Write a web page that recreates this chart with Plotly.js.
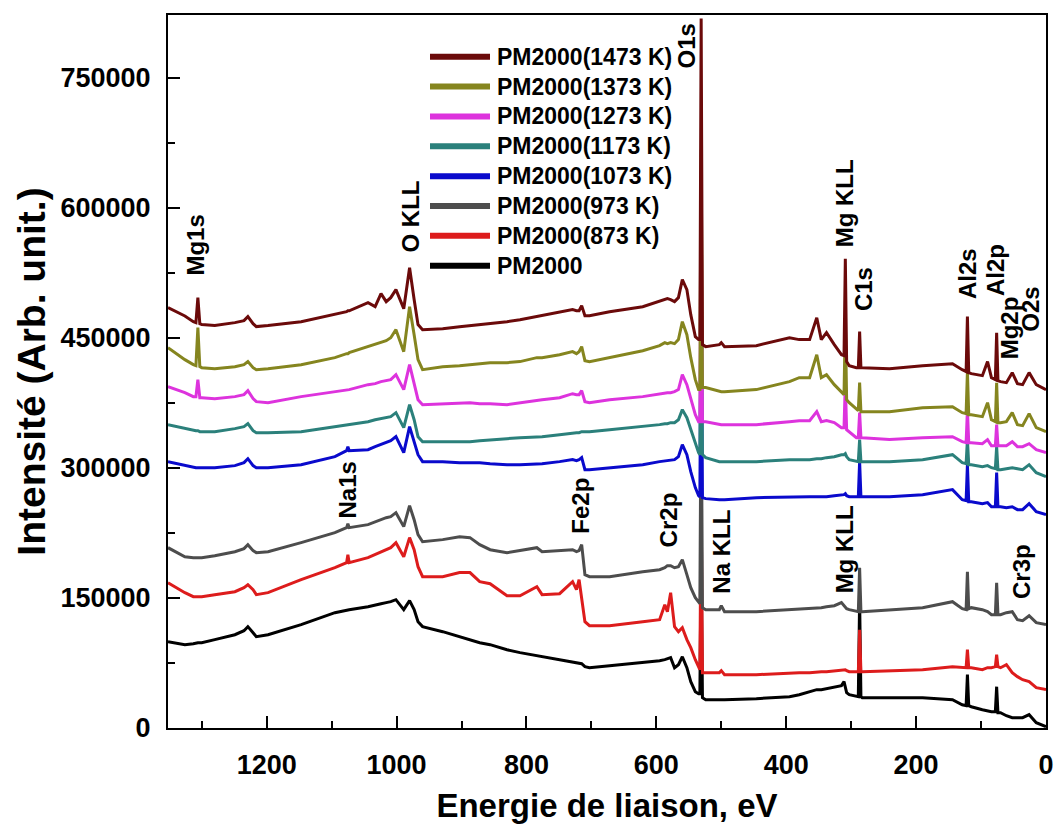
<!DOCTYPE html>
<html><head><meta charset="utf-8">
<script src="https://cdn.plot.ly/plotly-3.0.1.min.js"></script>
<style>html,body{margin:0;padding:0;background:#fff;} #chart{width:1056px;height:833px;}</style>
</head><body><div id="chart"></div>
<script>
// Binding energy grid (eV), shared by all spectra
const energy = [1352,1326,1313,1309,1306,1303,1300,1280,1249,1235,1229,1221,1216,1198,1147,1095,1077,1075,1073,1044,1033,1024,1016,1009,1001,989,980,973,967,960,929,903,887,872,856,830,810,784,776,749,729,723,719,715,710,703,672,621,595,587,583,578,572,566,560,553,547,540,535,533,531,529,524,503,500,495,446,395,380,364,353,346,338,326,315,311,309,307,303,292,289,287,285,283,241,190,144,129,123,121,119,115,98,90,84,78,76,74,70,61,52,44,36,26,15,0];

const seriesNames = ["PM2000","PM2000(873 K)","PM2000(973 K)","PM2000(1073 K)","PM2000(1173 K)","PM2000(1273 K)","PM2000(1373 K)","PM2000(1473 K)"];

const pm2000 = [99200,95800,96900,98100,98100,98100,98100,101600,107300,111900,
 116600,109600,105000,107300,118900,132700,136200,136200,136200,139600,
 141900,143100,144300,145400,147700,136200,146600,136200,122300,116600,
 110800,105000,101600,98100,95800,90000,86600,83100,81900,78500,
 76200,75000,75000,73900,70400,69200,71600,75000,77300,78500,
 79600,80800,69200,72700,81900,69200,53100,41500,39200,39200,
 193900,34600,32300,32300,32300,32300,33500,35800,38100,41500,
 43900,43900,45000,47300,48500,53100,46200,40400,38100,35800,
 35800,147700,35800,34600,34600,34600,32300,26500,25400,61200,
 25400,24200,20800,19600,18500,18500,47300,17300,17300,13800,
 11500,11500,11500,15000,5800,1200];

const pm873 = [167300,155800,151200,151200,151200,151200,151200,153500,156900,161600,
 165000,159300,153500,155800,170800,184600,190400,199600,190400,196200,
 199600,203100,205400,207700,213500,197300,219300,205400,185800,174300,
 174300,179000,179000,168500,166200,152300,152300,162700,153500,154600,
 168500,159300,170800,147700,122300,117700,117700,122300,124600,141900,
 133900,155800,116600,110800,115400,101600,92300,78500,69200,66900,
 263100,63500,63500,63500,65800,61200,61200,63500,63500,63500,
 64600,64600,64600,65800,66900,66900,66900,65800,64600,64600,
 64600,113100,64600,64600,65800,66900,70400,69200,69200,90000,
 69200,69200,66900,69200,69200,70400,84200,70400,69200,72700,
 63500,58900,55400,53100,46200,43900];

const pm973 = [207700,197300,196200,196200,196200,196200,196200,198500,203100,206600,
 211200,204300,202000,203100,213500,225000,230800,235400,230800,234300,
 237700,240000,242300,243500,248100,232000,256200,240000,222700,214600,
 217000,220400,219300,211200,205400,201900,204300,207700,203100,204300,
 205400,203100,204300,211200,176600,174300,174300,180000,182300,184600,
 187000,187000,184600,185800,193900,176600,161600,150000,144300,143100,
 401600,138500,136200,136200,140800,133900,133900,136200,137300,137300,
 138500,138500,139600,140800,144300,140800,139600,137300,136200,135000,
 133900,184600,133900,133900,136200,138500,145400,137300,136200,180000,
 137300,138500,136200,133900,130400,130400,167300,130400,130400,132700,
 133900,124600,123500,129200,121200,118900];

const pm1073 = [307000,302400,300000,300000,300000,300000,300000,300000,302400,305800,
 310400,302400,300000,300000,303500,312700,319600,324300,319600,320800,
 324300,326600,328900,331200,335800,317400,347400,330000,315000,307000,
 307000,305800,305800,305800,304700,303500,303500,304700,304700,307000,
 309300,308100,309300,311600,297700,297700,300000,303500,307000,308100,
 308100,309300,309300,312700,326600,315000,295400,277000,267700,266500,
 505500,265400,264300,263100,263100,263100,265400,266500,266500,266500,
 266500,266500,266500,267700,268900,268900,270000,267700,266500,266500,
 266500,307000,266500,266500,266500,268900,274700,263100,262000,303500,
 260800,260800,258500,259700,255000,255000,294300,255000,255000,253900,
 255000,251600,251600,258500,249300,245800];

const pm1173 = [349700,345100,342700,342700,342700,341600,341600,341600,345100,347400,
 350800,342700,340400,340400,341600,347400,349700,349700,349700,353100,
 355400,356600,357700,358900,363500,346200,372700,355400,335800,330000,
 330000,330000,330000,331200,332400,333500,334700,335800,335800,338100,
 340400,340400,340400,341600,341600,341600,343900,347400,349700,350800,
 350800,352000,352000,355400,367000,357700,343900,326600,317400,315000,
 551600,315000,311600,307000,307000,307000,307000,309300,309300,309300,
 310400,310400,311600,312700,315000,315000,316200,312700,309300,307000,
 307000,332400,307000,307000,307000,309300,315000,305800,304700,332400,
 303500,303500,301200,302400,300000,298900,324300,297700,297700,298900,
 300000,298900,297700,303500,294300,289700];

const pm1273 = [393500,386600,382000,382000,401600,380800,380800,379700,382000,384300,
 388900,379700,376200,375000,382000,387700,390100,390100,390100,395800,
 397000,399300,400400,401600,407400,390100,418900,395800,378500,372700,
 373900,375000,375000,373900,373900,372700,375000,377400,378500,380800,
 385400,384300,384300,388900,376200,375000,378500,382000,385400,386600,
 386600,386600,387700,390100,407400,395800,378500,361200,353100,353100,
 609300,353100,353100,349700,349700,349700,349700,353100,354300,354300,
 364700,353100,354300,352000,346200,346200,398100,343900,341600,334700,
 334700,363500,334700,334700,332400,334700,335800,330000,328900,367000,
 328900,328900,327700,332400,325400,325400,349700,325400,325400,325400,
 330000,324300,324300,327700,320800,317400];

const pm1373 = [438500,424700,418900,417700,461600,416600,415400,414300,416600,418900,
 422400,415400,413100,414300,418900,427000,431600,431600,432700,439700,
 442000,444300,446600,450000,459300,433900,485800,453500,424700,413100,
 416600,417700,418900,420000,421200,421200,422400,427000,427000,430400,
 433900,431600,433900,439700,423500,422400,427000,435000,440800,444300,
 443100,444300,443100,447800,468500,453500,427000,401600,390100,390100,
 667000,392400,392400,387700,387700,387700,390100,399300,403900,403900,
 430400,403900,407300,395800,386600,384300,470800,378500,375000,367000,
 365800,398100,364600,364600,364600,369300,370400,363500,362400,410800,
 361200,361200,358900,375000,355400,353100,398100,352000,352000,353100,
 363500,349700,348500,362400,346200,341600];

const pm1473 = [484700,475000,468500,467400,496200,466200,465100,464000,467400,469700,
 474300,466200,462800,464000,468500,476600,480000,481000,481000,490400,
 485800,500800,491600,496200,505500,483500,530800,494000,465100,459300,
 460400,462700,464000,465100,466200,468500,470800,474300,475400,478900,
 482400,481200,481200,487000,475400,475400,480000,485800,491600,494000,
 495100,494000,491600,496200,517000,505500,476600,451200,447800,447800,
 818200,442000,439700,442000,444300,439700,440800,450000,447800,447800,
 473100,447800,455800,442000,430400,429300,541200,422400,417700,415400,
 415400,457000,415400,415400,414300,417700,420000,413100,410800,474300,
 409700,408500,406200,422400,403900,401600,455800,400400,399300,398100,
 409700,397000,395800,409700,395800,390000];

const peakLabels = ["Mg1s","O KLL","O1s","Mg KLL","C1s","Al2s","Al2p","Mg2p","O2s","Na1s","Fe2p","Cr2p","Na KLL","Mg KLL","Cr3p"];
const xTickVals = [0,200,400,600,800,1000,1200];
const yTickVals = [0,150000,300000,450000,600000,750000];

// ---- styling / layout ----
const seriesValues = [pm2000, pm873, pm973, pm1073, pm1173, pm1273, pm1373, pm1473];
const colors = ["#000000","#DD1C1C","#4D4D4D","#0A0ACC","#2B807B","#DD33DD","#85851F","#6B0A0A"];
const FONT = "Liberation Sans, Arial, sans-serif";

const traces = seriesValues.map((v, i) => ({
  x: energy, y: v, type: "scatter", mode: "lines", name: seriesNames[i],
  line: {color: colors[i], width: 3}, showlegend: false, hoverinfo: "x+y+name"
}));

// label anchor positions (eV, intensity) – layout only
const labelPos = [[1309,557400],[978,589700],[553,787000],[310,604700],[281,505500],[121,523900],[78,528500],[56,461600],[23,482400],[1075,274700],[716,256200],[581,240000],[499,203100],[310,205400],[38,180000]];

const annotations = peakLabels.map((t, i) => ({
  x: labelPos[i][0], y: labelPos[i][1], xref: "x", yref: "y", text: t,
  textangle: -90, showarrow: false, xanchor: "center", yanchor: "middle",
  font: {family: FONT, size: 24, color: "#000", weight: "bold"}
}));

// custom legend (top entry = last series)
const shapes = [];
const plotH = 713, plotL = 168, plotW = 878;
for (let i = 0; i < seriesNames.length; i++) {
  const row = seriesNames.length - 1 - i;
  const py = 56.7 + row * 29.86;
  const yp = (728 - py) / plotH;
  shapes.push({type: "line", xref: "paper", yref: "paper",
    x0: (430 - plotL) / plotW, x1: (490 - plotL) / plotW, y0: yp, y1: yp,
    line: {color: colors[i], width: 6}});
  annotations.push({x: (495 - plotL) / plotW, y: yp, xref: "paper", yref: "paper",
    text: seriesNames[i], showarrow: false, xanchor: "left", yanchor: "middle",
    font: {family: FONT, size: 23, color: "#000", weight: "bold"}});
}

const layout = {
  width: 1056, height: 833,
  margin: {l: 168, r: 10, t: 15, b: 105},
  paper_bgcolor: "#fff", plot_bgcolor: "#fff",
  showlegend: false,
  xaxis: {
    range: [1352, 0], autorange: false,
    tickmode: "array", tickvals: xTickVals,
    ticks: "inside", ticklen: 12, tickwidth: 2, tickcolor: "#000",
    minor: {tickmode: "linear", tick0: 0, dtick: 100, ticks: "inside", ticklen: 7, tickwidth: 2, tickcolor: "#000"},
    showline: true, linewidth: 2, linecolor: "#000", mirror: true,
    showgrid: false, zeroline: false,
    ticklabelstandoff: 12,
    tickfont: {family: FONT, size: 27, color: "#000", weight: "bold"},
    title: {text: "Energie de liaison, eV", standoff: 14,
      font: {family: FONT, size: 33, color: "#000", weight: "bold"}}
  },
  yaxis: {
    range: [-350, 822350], autorange: false,
    tickmode: "array", tickvals: yTickVals, tickformat: "d",
    ticks: "inside", ticklen: 12, tickwidth: 2, tickcolor: "#000",
    minor: {tickmode: "linear", tick0: 0, dtick: 75000, ticks: "inside", ticklen: 7, tickwidth: 2, tickcolor: "#000"},
    showline: true, linewidth: 2, linecolor: "#000", mirror: true,
    showgrid: false, zeroline: false,
    ticklabelstandoff: 10,
    tickfont: {family: FONT, size: 27, color: "#000", weight: "bold"},
    title: {text: "Intensité (Arb. unit.)", standoff: 3,
      font: {family: FONT, size: 39, color: "#000", weight: "bold"}}
  },
  annotations: annotations,
  shapes: shapes
};

Plotly.newPlot("chart", traces, layout, {displayModeBar: false, staticPlot: true});
</script>
</body></html>
